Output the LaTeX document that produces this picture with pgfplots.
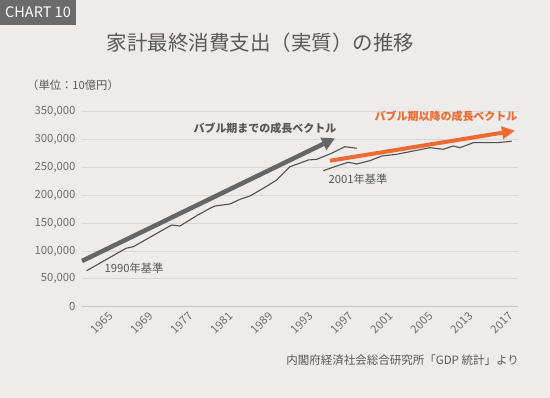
\documentclass[border=0pt]{standalone}
\usepackage{fontspec}
\setmainfont{Noto Sans CJK JP}
\usepackage{pgfplots}
\pgfplotsset{compat=1.18}
\usetikzlibrary{arrows.meta}
\definecolor{bg}{HTML}{EDECEA}
\definecolor{boxc}{HTML}{6B6B6B}
\definecolor{txt}{HTML}{595959}
\definecolor{tickc}{HTML}{6E6E6E}
\definecolor{gridc}{HTML}{D9D8D6}
\definecolor{axisc}{HTML}{C6C5C3}
\definecolor{linec}{HTML}{505050}
\definecolor{arrowgray}{HTML}{666666}
\definecolor{orangec}{HTML}{EE6A30}
\begin{document}
\begin{tikzpicture}[x=1pt,y=1pt]
\fill[bg] (0,0) rectangle (550,398);
\fill[boxc] (0,373) rectangle (76,398);
\node[white,font=\fontsize{14.5}{16}\selectfont] at (38,385.5) {CHART 10};
\node[txt,font=\fontsize{20.5}{24}\selectfont] at (260.5,355) {家計最終消費支出（実質）の推移};
\node[txt,anchor=west,font=\fontsize{11.3}{13}\selectfont,inner sep=0pt] at (27,313) {（単位：10億円）};
\node[txt,anchor=east,font=\fontsize{11.5}{13}\selectfont,inner sep=0pt] at (519,37.5) {内閣府経済社会総合研究所「GDP 統計」より};
\begin{axis}[
  at={(82pt,91.3pt)}, anchor=south west,
  scale only axis, width=436pt, height=195pt,
  xmin=0, xmax=436, ymin=0, ymax=350000,
  clip=false,
  axis line style={draw=none},
  major tick length=0pt,
  ytick={0,50000,100000,150000,200000,250000,300000,350000},
  yticklabels={0,{50,000},{100,000},{150,000},{200,000},{250,000},{300,000},{350,000}},
  ymajorgrids, grid style={gridc, line width=0.8pt},
  xtick={23,63,103,143,183,223,263,303,343,383,423},
  xticklabels={1965,1969,1977,1981,1989,1993,1997,2001,2005,2013,2017},
  xticklabel style={rotate=45, anchor=north east, inner sep=1pt, yshift=-4pt, font=\fontsize{11.3}{12}\selectfont, text=tickc},
  yticklabel style={font=\fontsize{11.3}{13}\selectfont, text=tickc, xshift=-3pt},
  scaled y ticks=false,
]
\addplot[axisc, line width=1.6pt] coordinates {(0,0) (436,0)};
% 1990 base
\addplot[linec, line width=1.1pt] coordinates {
(4.7,64620) (44,104830) (51.3,107700) (89.7,146650) (98,144860) (114.7,163350)
(128,176630) (133,180760) (148,184350) (158,192780) (168,198700) (181.3,212530)
(194.7,227430) (208,251300) (214.7,255600) (226.3,263330) (234.7,264580)
(248,274100) (263,287200) (274.7,284330)};
% 2001 base
\addplot[linec, line width=1.1pt] coordinates {
(241.3,244120) (254.7,252560) (266.3,259200) (274.7,256150) (288,262070)
(299.7,270500) (314.7,273560) (328,278230) (348,285400) (361.3,282530)
(371.3,288460) (378,285400) (391.3,294380) (401.3,294380) (414.7,294380)
(429.7,296900)};
% arrows
\addplot[arrowgray, line width=4.5pt, -{Triangle[length=13pt,width=13pt]}] coordinates {(0,82000) (253,302300)};
\addplot[orangec, line width=4pt, -{Triangle[length=13pt,width=12pt]}] coordinates {(248,262000) (433,316000)};
\node[txt,font=\fontsize{11.3}{13}\selectfont] at (axis cs:52,68900) {1990年基準};
\node[txt,font=\fontsize{11.3}{13}\selectfont] at (axis cs:276,229200) {2001年基準};
\node[text=arrowgray!85!black,font=\bfseries\fontsize{11}{13}\selectfont] at (axis cs:183,320800) {バブル期までの成長ベクトル};
\node[text=orangec,font=\bfseries\fontsize{11}{13}\selectfont] at (axis cs:364,342300) {バブル期以降の成長ベクトル};
\end{axis}
\end{tikzpicture}
\end{document}
